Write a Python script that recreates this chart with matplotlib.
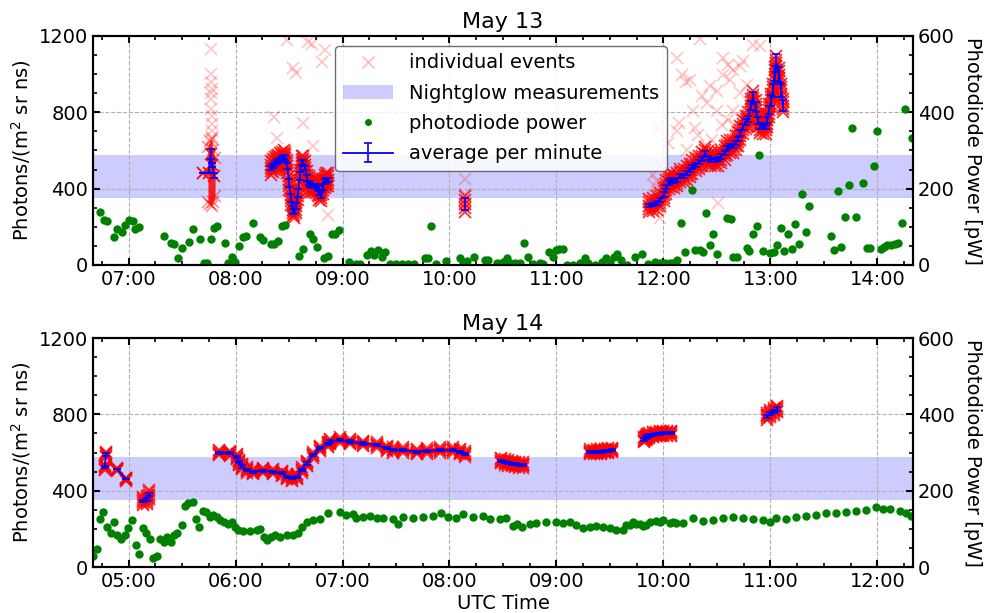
import matplotlib
matplotlib.use("Agg")
import matplotlib.pyplot as plt
import numpy as np
from matplotlib.ticker import MultipleLocator, FuncFormatter
from matplotlib.patches import Patch
from matplotlib.lines import Line2D

# ---------------- data (times in minutes after 00:00 UTC) ----------------
# Nightglow band (photons / (m^2 sr ns))
nightglow_lo = 350
nightglow_hi = 578

# ---- May 13 ----
m13_pd_t = [403.9, 406.2, 407.8, 411.8, 413.5, 416.3, 417.9, 420.2, 422.4, 423.5, 425.8,
            439.8, 443.7, 445.4, 447.7, 449.9, 453.8, 456.1, 460.0, 462.2, 463.9, 466.2,
            467.8, 469.5, 474.0, 475.7, 477.9, 479.6, 481.9, 484.1, 485.8, 489.7, 493.6,
            495.3, 499.8, 501.5, 503.7, 506.0, 507.7, 515.5, 517.7, 521.7, 523.4, 525.6,
            529.5, 531.8, 534.0, 535.7, 537.9, 543.5, 547.5, 549.7, 553.6, 555.9, 557.6,
            559.8, 562.0, 563.7, 566.5, 569.9, 573.3, 576.6, 580.0, 586.2, 587.8, 589.5,
            592.3, 597.9, 605.8, 607.5, 609.7, 613.6, 619.8, 621.5, 626.5, 629.9, 632.1,
            633.8, 636.6, 639.4, 641.7, 643.9, 646.7, 650.6, 652.3, 655.7, 657.9, 659.6,
            661.3, 663.5, 665.8, 669.1, 673.1, 675.9, 677.5, 681.5, 685.4, 687.6, 689.9,
            692.1, 693.8, 696.0, 699.4, 703.9, 707.8, 711.2, 715.1, 717.9, 720.7, 723.5,
            725.2, 727.5, 729.7, 731.9, 735.9, 737.5, 740.3, 742.0, 743.7, 746.0, 747.6,
            749.9, 755.5, 757.7, 758.9, 761.1, 766.7, 767.8, 770.1, 772.3, 773.4, 775.7,
            779.6, 781.9, 783.6, 785.8, 787.5, 789.8, 792.0, 793.6, 795.9, 797.5, 799.8,
            801.5, 813.8, 815.5, 817.7, 819.4, 821.6, 823.9, 825.6, 827.8, 831.7, 834.0,
            835.7, 837.9, 839.6, 841.8, 843.5, 845.2, 847.4, 849.7, 851.4, 853.6, 855.8,
            859.2]
m13_pd_v = [139, 118, 115, 73, 94, 86, 105, 118, 115, 94, 100,
            76, 58, 55, 18, 45, 60, 94, 68, 5, 5, 68,
            97, 102, 58, 5, 21, 8, 50, 73, 76, 110, 73,
            66, 55, 55, 63, 102, 105, 24, 42, 81, 68, 47,
            18, 24, 81, 81, 92, 8, 2, 2, 26, 37, 26,
            39, 21, 34, 3, 2, 2, 3, 2, 18, 18, 102,
            3, 10, 18, 5, 10, 21, 13, 13, 5, 8, 18,
            5, 5, 5, 58, 21, 3, 5, 3, 34, 21, 39,
            42, 42, 1, 1, 5, 18, 5, 1, 8, 18, 5,
            21, 29, 13, 1, 21, 29, 3, 8, 5, 5, 5,
            5, 13, 110, 34, 197, 39, 39, 34, 136, 52, 81,
            29, 123, 121, 21, 21, 45, 37, 81, 102, 288, 37,
            31, 34, 52, 97, 37, 81, 42, 107, 55, 186, 86,
            155, 76, 39, 194, 47, 126, 210, 359, 126, 215, 45,
            45, 259, 351, 42, 47, 52, 52, 55, 58, 110, 409,
            333]

# average per minute, May 13 (four observing blocks)
m13_avg_t1 = [462, 465, 466, 467, 468]
m13_avg_v1 = [484, 484, 580, 524, 467]
m13_avg_e1 = [0, 0, 27, 9, 13]

m13_avg_t2 = [500, 501, 502, 503, 504, 505, 506, 507, 508, 509, 510, 511, 512, 513, 514, 515,
              516, 517, 518, 519, 520, 521, 522, 523, 524, 525, 526, 527, 528, 529, 530, 531, 532]
m13_avg_v2 = [508, 520, 531, 538, 543, 550, 559, 566, 559, 517, 430, 351, 290, 281, 308, 377,
              465, 534, 538, 508, 456, 430, 419, 416, 416, 412, 403, 377, 368, 409, 439, 447, 447]
m13_avg_e2 = [10, 10, 10, 10, 10, 10, 10, 12, 12, 15, 20, 20, 18, 15, 15, 20,
              20, 15, 12, 12, 15, 12, 10, 10, 10, 10, 10, 12, 15, 15, 12, 10, 10]

m13_avg_t3 = [608.6]
m13_avg_v3 = [320]
m13_avg_e3 = [32]

m13_avg_t4 = [711.9, 714.2, 716.4, 718.3, 720.2, 721.7, 723.1, 724.5, 725.9, 727.6, 729.5,
              731.4, 733.2, 734.7, 736.3, 738.1, 740.0, 741.9, 743.3, 745.0, 746.9, 748.8,
              750.6, 752.5, 754.4, 755.7, 757.2, 759.0, 760.5, 761.8, 763.2, 764.6, 766.1,
              767.6, 768.9, 770.2, 771.7, 773.0, 774.4, 775.8, 777.4, 778.3, 779.2, 780.5,
              781.4, 782.4, 783.3, 784.8, 786.1, 787.0]
m13_avg_v4 = [311, 316, 325, 342, 368, 409, 433, 446, 438, 447, 468,
              468, 482, 496, 514, 526, 538, 555, 583, 561, 552, 552,
              555, 570, 587, 613, 622, 622, 639, 660, 692, 723, 748,
              765, 835, 875, 828, 758, 727, 723, 723, 758, 811, 863,
              915, 1002, 1058, 997, 915, 835]
m13_avg_e4 = [8, 8, 10, 10, 12, 12, 12, 10, 10, 10, 10,
              10, 10, 10, 10, 10, 10, 12, 12, 10, 10, 10,
              10, 12, 12, 12, 10, 10, 12, 12, 15, 15, 15,
              15, 25, 30, 25, 20, 15, 12, 12, 15, 20, 30,
              35, 40, 45, 40, 35, 30]

# individual events: scatter half-width of the dense event cloud per block
m13_ev_spread = [0, 35, 40, 35]
# dense event column of block 1
m13_ev1_t = [464.5, 465.5, 466.5, 467.5, 468.5]
m13_ev1_lo = [330, 320, 310, 330, 360]
m13_ev1_hi = [620, 650, 660, 600, 560]
# sparse / outlying individual events
m13_out_t = [461.7, 466, 466, 466.3, 466.5, 466, 466.2, 466.4, 466.6, 466.8, 467, 466.5,
             501.5, 503.2, 517.7, 523.4, 508.8, 512.1, 513.8, 520.6, 522.8, 528.4, 530.1,
             531.8, 608.8, 608.5,
             727.9, 730.7, 732.9, 734.7, 727.5, 716.8, 716.3, 715.1, 717.9, 741.7, 744.5,
             746.2, 750.2, 753.6, 756.0, 758.9, 762.8, 764.5, 753.2, 757.2, 770.1, 774.0,
             749.9, 752.8, 756.0, 760.0, 737.5, 739.3, 736.4, 728.6, 722.4, 717.9, 714.0,
             750.4, 740.3, 744.5, 747.0, 733.1, 758.9, 766.7, 762.8]
m13_out_v = [484, 1130, 1000, 960, 920, 900, 870, 820, 780, 740, 700, 670,
             775, 665, 744, 624, 1180, 1032, 1006, 1168, 1158, 1064, 1127,
             262, 450, 372,
             1085, 996, 959, 969, 702, 718, 440, 414, 246, 885, 849,
             938, 912, 1085, 1048, 1022, 1043, 1069, 996, 969, 1153, 1148,
             807, 734, 760, 734, 718, 681, 807, 744, 639, 519, 472,
             325, 1184, 624, 655, 603, 807, 943, 901]

# ---- May 14 ----
m14_pd_t = [280.2, 282.1, 283.9, 285.8, 287.7, 289.9, 291.8, 293.6, 295.5, 297.9, 299.8,
            302.0, 303.9, 306.0, 307.9, 309.7, 312.0, 313.8, 315.7, 317.6, 319.8, 321.7,
            323.6, 325.4, 327.3, 329.7, 331.6, 333.4, 335.9, 337.8, 339.6, 341.5, 343.4,
            345.6, 347.5, 349.4, 351.2, 353.5, 355.9, 357.8, 359.6, 361.5, 364.3, 368.0,
            371.8, 373.6, 375.9, 377.4, 379.6, 382.0, 384.9, 388.6, 392.3, 395.1, 397.0,
            399.8, 403.5, 407.3, 411.9, 418.5, 422.2, 425.9, 427.8, 431.6, 435.3, 439.1,
            442.8, 448.4, 451.2, 454.0, 459.6, 465.2, 470.8, 475.5, 479.2, 483.9, 487.6,
            493.2, 498.8, 502.6, 508.2, 511.9, 515.7, 517.6, 520.4, 525.0, 528.8, 534.4,
            540.0, 543.7, 547.5, 551.2, 554.9, 558.7, 562.4, 566.1, 569.9, 573.6, 577.3,
            579.2, 581.0, 582.9, 584.8, 586.7, 588.6, 590.5, 592.3, 596.1, 598.0, 599.8,
            603.5, 605.4, 607.3, 611.0, 616.6, 622.1, 627.8, 633.4, 639.0, 644.6, 650.2,
            655.8, 659.6, 663.4, 668.9, 674.6, 680.2, 685.8, 691.4, 697.0, 702.6, 708.2,
            713.8, 719.4, 723.2, 726.9, 732.5, 736.2, 739.0]
m14_pd_v = [29, 46, 125, 145, 106, 90, 119, 84, 73, 84, 103,
            123, 59, 34, 103, 90, 73, 24, 29, 73, 66, 78,
            66, 84, 90, 109, 161, 167, 170, 125, 106, 148, 145,
            130, 136, 132, 123, 119, 114, 119, 106, 97, 94, 95,
            97, 99, 79, 71, 79, 84, 78, 84, 84, 88, 106,
            119, 123, 125, 141, 145, 136, 138, 128, 132, 134, 128,
            128, 125, 114, 130, 128, 132, 134, 142, 130, 128, 138,
            132, 134, 125, 125, 128, 107, 114, 106, 114, 116, 119,
            119, 116, 119, 110, 101, 106, 107, 106, 101, 97, 97,
            110, 110, 119, 114, 114, 107, 110, 118, 121, 119, 123,
            116, 119, 116, 116, 128, 121, 123, 128, 130, 128, 125,
            123, 119, 128, 125, 130, 134, 136, 141, 142, 145, 148,
            149, 156, 151, 151, 148, 142, 134]

m14_avg_t1 = [286.5, 287.3]
m14_avg_v1 = [522, 590]
m14_avg_e1 = [5, 8]
m14_avg_t2 = [293.6, 298.5]
m14_avg_v2 = [512, 461]
m14_avg_e2 = [0, 0]
m14_avg_t3 = [307.9, 310.1, 311.6]
m14_avg_v3 = [345, 352, 380]
m14_avg_e3 = [6, 8, 8]
m14_avg_t4 = [350.8, 356.8, 360.6, 362.0, 363.4, 366.2, 369.9, 375.5, 381.1, 385.8, 388.6,
              391.4, 394.2, 397.0, 399.8, 403.5, 407.3, 411.9, 412.9, 418.5, 424.1, 431.6,
              439.1, 444.7, 448.4, 454.0, 461.5, 467.1, 474.6, 482.0, 485.8, 488.6]
m14_avg_v4 = [599, 596, 578, 549, 526, 508, 499, 505, 499, 491, 473,
              465, 473, 508, 543, 587, 622, 643, 657, 665, 657, 648,
              639, 622, 613, 613, 604, 608, 613, 613, 604, 592]
m14_avg_e4 = [6] * 32
m14_avg_t5 = [509, 511, 513, 515, 517, 519, 521]
m14_avg_v5 = [557, 550, 545, 542, 538, 535, 534]
m14_avg_e5 = [5, 5, 5, 5, 5, 5, 5]
m14_avg_t6 = [559, 561, 563, 565, 567, 569, 571]
m14_avg_v6 = [604, 603, 604, 605, 607, 610, 613]
m14_avg_e6 = [5, 5, 5, 5, 5, 5, 5]
m14_avg_t7 = [589, 590, 591, 592, 594, 596, 598, 600, 602, 604]
m14_avg_v7 = [668, 676, 684, 689, 694, 697, 699, 700, 700, 700]
m14_avg_e7 = [6, 6, 6, 6, 5, 5, 5, 5, 5, 5]
m14_avg_t8 = [658, 660, 662, 664]
m14_avg_v8 = [790, 805, 815, 828]
m14_avg_e8 = [8, 8, 8, 8]
m14_ev_spread = [14, 8, 22, 14, 14, 12, 12, 18]

# ---------------- plotting ----------------
plt.rcParams["font.family"] = ["DejaVu Sans"]
fig = plt.figure(figsize=(9.87, 6.13), dpi=100)
L, R = 0.0942, 0.925
ax1 = fig.add_axes([L, 0.5677, R - L, 0.3736])
ax2 = fig.add_axes([L, 0.075, R - L, 0.3736])

EV_KW = dict(linestyle="none", marker="x", color="red", ms=8, mew=1.3)


def fmt_time(v, pos):
    return f"{int(v // 60):02d}:{int(round(v % 60)):02d}"


def draw_block(ax, t, v, e, spread):
    t = np.asarray(t, float)
    v = np.asarray(v, float)
    if spread > 0:
        ax.fill_between(t, v - spread, v + spread, color="red", lw=0, zorder=2)
        for f in (-1.0, -0.5, 0.5, 1.0):
            ax.plot(t, v + f * spread, alpha=0.8, zorder=2, **EV_KW)
    ax.plot(t, v, alpha=0.9, zorder=2, **EV_KW)
    return ax.errorbar(t, v, yerr=e, color="blue", lw=1.3, elinewidth=1.2,
                       capsize=3, capthick=1.2, zorder=4)


def style(ax, axr, xmin, xmax):
    ax.set_xlim(xmin, xmax)
    ax.set_ylim(0, 1200)
    axr.set_ylim(0, 600)
    ax.xaxis.set_major_locator(MultipleLocator(60))
    ax.xaxis.set_minor_locator(MultipleLocator(15))
    ax.xaxis.set_major_formatter(FuncFormatter(fmt_time))
    ax.yaxis.set_major_locator(MultipleLocator(400))
    ax.yaxis.set_minor_locator(MultipleLocator(100))
    axr.yaxis.set_major_locator(MultipleLocator(200))
    axr.yaxis.set_minor_locator(MultipleLocator(50))
    ax.grid(True, which="major", ls="--", color="#b0b0b0", lw=0.8)
    ax.tick_params(which="both", direction="in", top=True, right=False, labelsize=14, width=1.5)
    ax.tick_params(which="major", length=5)
    ax.tick_params(which="minor", length=3, width=1.2)
    axr.tick_params(which="both", direction="in", labelsize=14, width=1.5)
    axr.tick_params(which="major", length=5)
    axr.tick_params(which="minor", length=3, width=1.2)
    for a in (ax, axr):
        for s in a.spines.values():
            s.set_linewidth(1.5)
    ax.set_ylabel("Photons/(m$^2$ sr ns)", fontsize=14)
    axr.set_ylabel("Photodiode Power [pW]", fontsize=14, rotation=270, labelpad=20)


# ---- May 13 ----
ax1r = ax1.twinx()
ax1.axhspan(nightglow_lo, nightglow_hi, color="blue", alpha=0.2, lw=0, zorder=1)
ax1.plot(m13_out_t, m13_out_v, alpha=0.22, zorder=2, **EV_KW)
ax1.fill_between(m13_ev1_t, m13_ev1_lo, m13_ev1_hi, color="red", lw=0, alpha=0.85, zorder=2)
ax1.plot(m13_ev1_t, m13_ev1_lo, alpha=0.4, zorder=2, **EV_KW)
ax1.plot(m13_ev1_t, m13_ev1_hi, alpha=0.4, zorder=2, **EV_KW)
eb = draw_block(ax1, m13_avg_t1, m13_avg_v1, m13_avg_e1, m13_ev_spread[0])
draw_block(ax1, m13_avg_t2, m13_avg_v2, m13_avg_e2, m13_ev_spread[1])
draw_block(ax1, m13_avg_t3, m13_avg_v3, m13_avg_e3, m13_ev_spread[2])
draw_block(ax1, m13_avg_t4, m13_avg_v4, m13_avg_e4, m13_ev_spread[3])
ax1r.plot(m13_pd_t, m13_pd_v, "o", color="green", ms=5, linestyle="none")
style(ax1, ax1r, 400, 860)
ax1.set_title("May 13", fontsize=16)

handles = [
    Line2D([], [], linestyle="none", marker="x", color="red", alpha=0.3, ms=9),
    Patch(facecolor="blue", alpha=0.2),
    Line2D([], [], linestyle="none", marker="o", color="green", ms=4),
    eb,
]
labels = ["individual events", "Nightglow measurements", "photodiode power", "average per minute"]
leg = ax1r.legend(handles, labels, loc="upper center", fontsize=14, framealpha=0.85,
                  edgecolor="#555555", handlelength=2.6, labelspacing=0.58,
                  bbox_to_anchor=(0.4975, 1.0))

# ---- May 14 ----
ax2r = ax2.twinx()
ax2.axhspan(nightglow_lo, nightglow_hi, color="blue", alpha=0.2, lw=0, zorder=1)
blocks14 = [
    (m14_avg_t1, m14_avg_v1, m14_avg_e1), (m14_avg_t2, m14_avg_v2, m14_avg_e2),
    (m14_avg_t3, m14_avg_v3, m14_avg_e3), (m14_avg_t4, m14_avg_v4, m14_avg_e4),
    (m14_avg_t5, m14_avg_v5, m14_avg_e5), (m14_avg_t6, m14_avg_v6, m14_avg_e6),
    (m14_avg_t7, m14_avg_v7, m14_avg_e7), (m14_avg_t8, m14_avg_v8, m14_avg_e8),
]
for (t, v, e), sp in zip(blocks14, m14_ev_spread):
    draw_block(ax2, t, v, e, sp)
ax2r.plot(m14_pd_t, m14_pd_v, "o", color="green", ms=5, linestyle="none")
style(ax2, ax2r, 280, 740)
ax2.set_title("May 14", fontsize=16)
ax2.set_xlabel("UTC Time", fontsize=14, labelpad=2)

fig.savefig("out.png", dpi=100)
